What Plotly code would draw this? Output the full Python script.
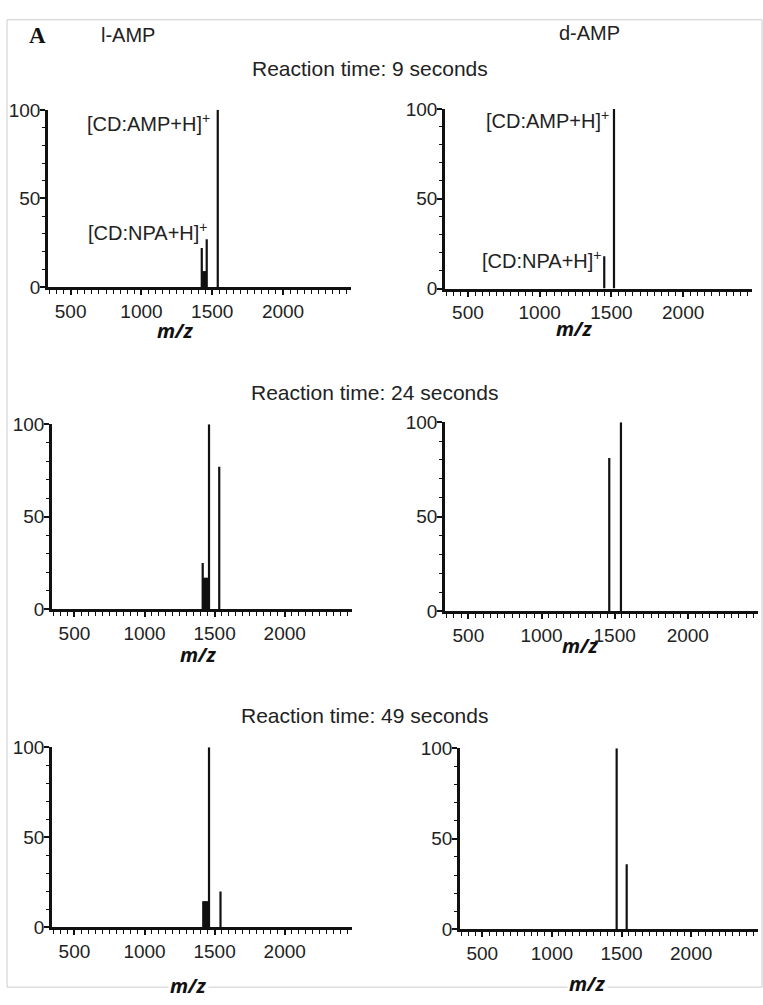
import plotly.graph_objects as go

W, H = 763, 1005

# m/z window shared by all six spectra
MZ_RANGE = [340, 2480]
MZ_TICKS = [500, 1000, 1500, 2000]
INT_TICKS = [0, 50, 100]

# l-AMP, 9 s
l9_mz = [1426, 1436, 1446, 1454, 1461, 1539]
l9_int = [22, 9, 9, 9, 27, 100]
# d-AMP, 9 s
d9_mz = [1450, 1518]
d9_int = [18, 100]
# l-AMP, 24 s
l24_mz = [1415, 1425, 1435, 1445, 1460, 1533]
l24_int = [25, 17, 17, 17, 100, 77]
# d-AMP, 24 s
d24_mz = [1463, 1543]
d24_int = [81, 100]
# l-AMP, 49 s
l49_mz = [1419, 1427, 1435, 1443, 1451, 1460, 1542]
l49_int = [14.5, 14.5, 14.5, 14.5, 14.5, 100, 20]
# d-AMP, 49 s
d49_mz = [1465, 1537]
d49_int = [100, 36]

headers = ["l-AMP", "d-AMP"]
times = ["Reaction time: 9 seconds", "Reaction time: 24 seconds",
         "Reaction time: 49 seconds"]

spectra = [(l9_mz, l9_int), (d9_mz, d9_int), (l24_mz, l24_int),
           (d24_mz, d24_int), (l49_mz, l49_int), (d49_mz, d49_int)]

# panel boxes in pixels: left, right, baseline, top (intensity 100)
boxes = [(48, 351, 283, 102), (445, 752, 284.5, 101),
         (52, 352, 612, 423), (445, 758, 614, 421),
         (52, 352, 937, 753), (460, 758, 939, 754)]

FONT = "Liberation Sans, Arial, sans-serif"


def fx(px):
    return px / W


def fy(py):
    return 1 - py / H


fig = go.Figure()

for i, ((mz, inten), (xl, xr, yb, yt)) in enumerate(zip(spectra, boxes)):
    n = "" if i == 0 else str(i + 1)
    xs, ys = [], []
    for m, v in zip(mz, inten):
        xs += [m, m, None]
        ys += [0, v, None]
    fig.add_trace(go.Scatter(
        x=xs, y=ys, mode="lines", xaxis="x" + n, yaxis="y" + n,
        line=dict(color="#111111", width=2.2), showlegend=False,
        hoverinfo="skip"))
    fig.layout["xaxis" + n] = dict(
        domain=[fx(xl), fx(xr)], range=MZ_RANGE, anchor="y" + n,
        tickvals=MZ_TICKS, ticktext=[str(t) for t in MZ_TICKS],
        showline=True, linecolor="#111111", linewidth=3,
        ticks="outside", ticklen=5, tickwidth=1.6, tickcolor="#111111",
        minor=dict(dtick=50, tick0=0, ticks="outside", ticklen=4,
                   tickwidth=1.4, tickcolor="#111111", showgrid=False),
        showgrid=False, zeroline=False,
        tickfont=dict(family=FONT, size=19, color="#222222"),
        fixedrange=True)
    fig.layout["yaxis" + n] = dict(
        domain=[fy(yb), fy(yt)], range=[0, 100], anchor="x" + n,
        tickvals=INT_TICKS, ticktext=[str(t) for t in INT_TICKS],
        showline=True, linecolor="#111111", linewidth=2.5,
        ticks="outside", ticklen=5, tickwidth=1.6, tickcolor="#111111",
        minor=dict(dtick=10, ticks="outside", ticklen=3, tickwidth=1.4,
                   tickcolor="#111111", showgrid=False),
        showgrid=False, zeroline=False, ticklabelstandoff=-4,
        tickfont=dict(family=FONT, size=19, color="#222222"),
        fixedrange=True)

ann = []


def text(px, py, s, size=20, anchor="center", family=FONT, color="#222222",
         bg=None):
    a = dict(x=fx(px), y=fy(py), xref="paper", yref="paper",
             text=s, showarrow=False, xanchor=anchor, yanchor="middle",
             font=dict(family=family, size=size, color=color))
    if bg:
        a["bgcolor"] = bg
    ann.append(a)


text(37, 26, "<b>A</b>", size=23,
     family="Liberation Serif, Times New Roman, serif", color="#111111")
text(128, 26, headers[0])
text(589, 24, headers[1])
text(370, 60, times[0], size=21)
text(374, 391, times[1], size=21)
text(364, 721, times[2], size=21)

# peak assignments
text(212, 115, "[CD:AMP+H]<sup>+</sup>", anchor="right")
text(210, 226, "[CD:NPA+H]<sup>+</sup>", anchor="right")
text(611, 112, "[CD:AMP+H]<sup>+</sup>", anchor="right")
text(604, 255, "[CD:NPA+H]<sup>+</sup>", anchor="right")

# axis titles; the bottom row sits over the frame line
MZ_FONT = "Open Sans, DejaVu Sans, sans-serif"
for px, py, bg in [(175, 327, None), (574, 325, None), (199, 658, None),
                   (580, 649, None), (188, 996, "white"),
                   (587, 994, "white")]:
    text(px, py, "<b><i>m/z</i></b>", size=20, family=MZ_FONT,
         color="#111111", bg=bg)

fig.update_layout(
    width=W, height=H, margin=dict(l=0, r=0, t=0, b=0),
    paper_bgcolor="white", plot_bgcolor="white",
    annotations=ann,
    shapes=[dict(type="rect", xref="paper", yref="paper",
                 x0=fx(7), x1=fx(762), y0=fy(998), y1=fy(10),
                 line=dict(color="#cccccc", width=1),
                 fillcolor="rgba(0,0,0,0)", layer="below")])

fig.write_html("out.html")
